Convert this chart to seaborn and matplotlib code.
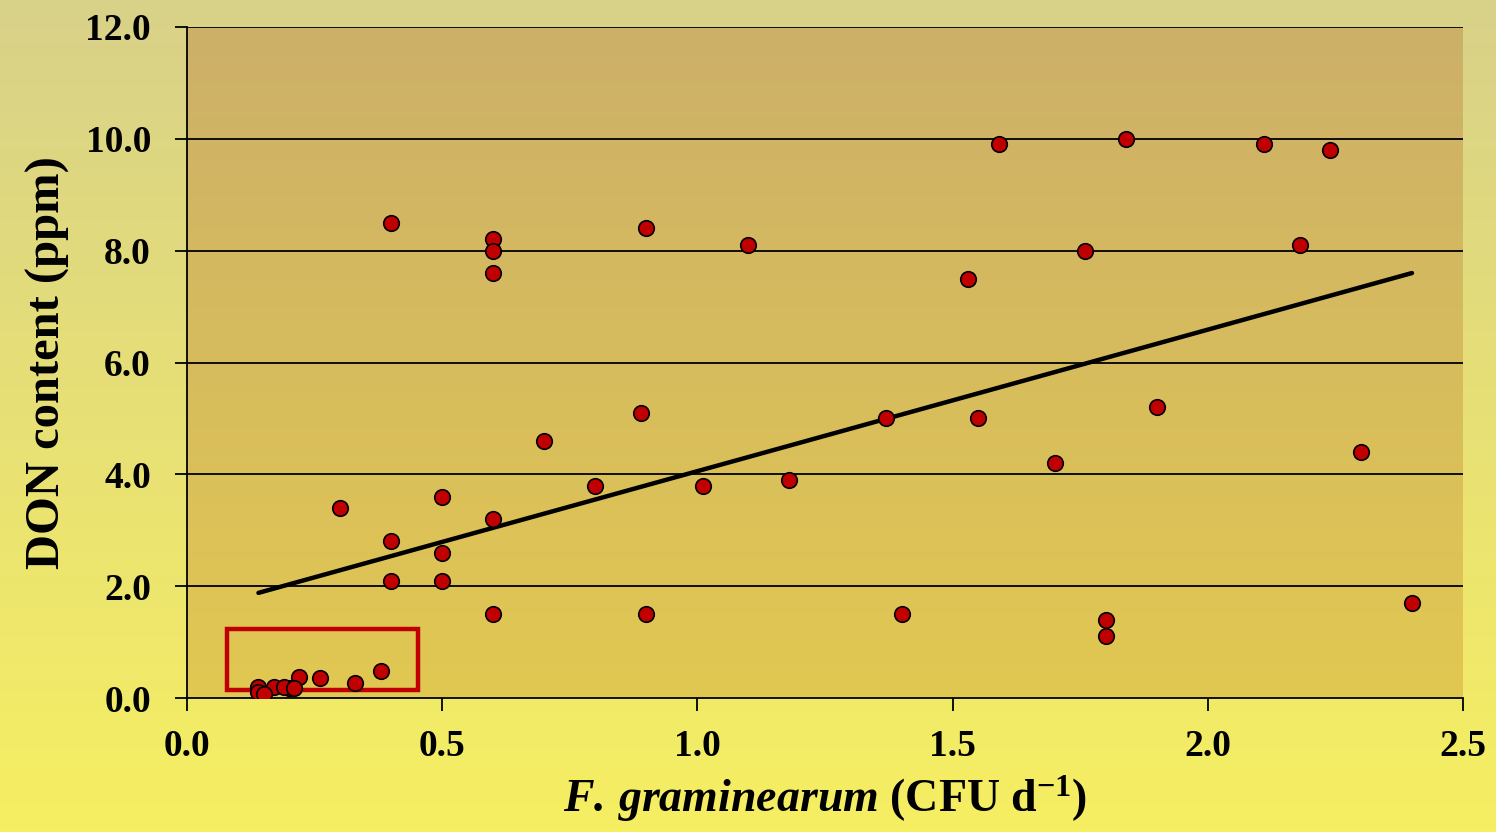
import numpy as np
import pandas as pd
import matplotlib
matplotlib.use("Agg")
import matplotlib.pyplot as plt
import matplotlib.patches as patches
from matplotlib.colors import LinearSegmentedColormap
import seaborn as sns

# Dados
fungo_cfu = [0.40, 0.60, 0.60, 0.60, 0.90, 1.10, 1.59, 1.84, 2.11, 2.24,
             2.18, 1.76, 1.53, 0.89, 0.70, 1.37, 1.55, 1.90, 1.70, 2.30,
             0.30, 0.50, 0.80, 1.01, 1.18, 0.60, 0.40, 0.50, 0.40, 0.50,
             0.60, 0.90, 1.40, 1.80, 1.80, 2.40,
             0.38, 0.33, 0.26, 0.22, 0.20, 0.17, 0.14, 0.14, 0.15, 0.19, 0.21]
don_ppm = [8.5, 8.2, 8.0, 7.6, 8.4, 8.1, 9.9, 10.0, 9.9, 9.8,
           8.1, 8.0, 7.5, 5.1, 4.6, 5.0, 5.0, 5.2, 4.2, 4.4,
           3.4, 3.6, 3.8, 3.8, 3.9, 3.2, 2.8, 2.6, 2.1, 2.1,
           1.5, 1.5, 1.5, 1.4, 1.1, 1.7,
           0.48, 0.26, 0.35, 0.38, 0.17, 0.20, 0.19, 0.10, 0.08, 0.19, 0.18]

# Linha de tendência (extremos)
tendencia_x = [0.14, 2.40]
tendencia_y = [1.88, 7.60]

# Caixa destacada (região de baixa contaminação)
caixa_x = [0.078, 0.453]
caixa_y = [0.14, 1.23]

x_ticks = [0.0, 0.5, 1.0, 1.5, 2.0, 2.5]
y_ticks = [0, 2, 4, 6, 8, 10, 12]

df = pd.DataFrame({"cfu": fungo_cfu, "don": don_ppm})
df_tend = pd.DataFrame({"x": tendencia_x, "y": tendencia_y})

sns.set_theme(style="white")
plt.rcParams["font.family"] = ["Liberation Serif", "DejaVu Serif"]
plt.rcParams["text.color"] = "black"
plt.rcParams["axes.labelcolor"] = "black"
plt.rcParams["xtick.color"] = "black"
plt.rcParams["ytick.color"] = "black"
plt.rcParams["mathtext.fontset"] = "custom"
plt.rcParams["mathtext.rm"] = "Liberation Serif:bold"
plt.rcParams["mathtext.bf"] = "Liberation Serif:bold"
plt.rcParams["mathtext.it"] = "Liberation Serif:italic:bold"
plt.rcParams["mathtext.bfit"] = "Liberation Serif:italic:bold"

fig = plt.figure(figsize=(14.96, 8.32), dpi=100)

# Fundo em degradê da figura
bg = fig.add_axes([0, 0, 1, 1], zorder=-10)
cmap_fig = LinearSegmentedColormap.from_list("fig", ["#d8d189", "#f6ef62"])
bg.imshow(np.linspace(0, 1, 256).reshape(-1, 1), cmap=cmap_fig, aspect="auto",
          extent=[0, 1, 0, 1], origin="upper")
bg.axis("off")

ax = fig.add_axes([187 / 1496, 1 - 698 / 832, (1463 - 187) / 1496, (698 - 27) / 832])
ax.patch.set_alpha(0)

# Fundo em degradê da área do gráfico
cmap_ax = LinearSegmentedColormap.from_list("ax", ["#cdb069", "#e1c852"])
ax.imshow(np.linspace(0, 1, 256).reshape(-1, 1), cmap=cmap_ax, aspect="auto",
          extent=[0, 2.5, 0, 12], origin="upper", zorder=0)

for yv in y_ticks[1:]:
    ax.axhline(yv, color="black", lw=1.3, zorder=1)

caixa = patches.Rectangle((caixa_x[0], caixa_y[0]), caixa_x[1] - caixa_x[0],
                          caixa_y[1] - caixa_y[0], fill=False,
                          edgecolor="#c00000", lw=3.2, zorder=2)
ax.add_patch(caixa)

sns.lineplot(data=df_tend, x="x", y="y", color="black", lw=3.2, ax=ax,
             zorder=3, solid_capstyle="round")

sns.scatterplot(data=df, x="cfu", y="don", color="#c00000", edgecolor="black",
                linewidth=1.2, s=125, ax=ax, zorder=4)

ax.set_xlim(0, 2.5)
ax.set_ylim(0, 12)
ax.set_xticks(x_ticks)
ax.set_yticks(y_ticks)
ax.set_xticklabels([f"{v:.1f}" for v in x_ticks])
ax.set_yticklabels([f"{v:.1f}" for v in y_ticks])

for lado in ["top", "right"]:
    ax.spines[lado].set_visible(False)
for lado in ["left", "bottom"]:
    ax.spines[lado].set_color("black")
    ax.spines[lado].set_linewidth(1.3)

ax.tick_params(axis="both", direction="out", length=9, width=1.3, color="black",
               labelsize=27, labelcolor="black", bottom=True, left=True)
ax.tick_params(axis="y", pad=17)
ax.tick_params(axis="x", pad=13)
for lbl in ax.get_xticklabels() + ax.get_yticklabels():
    lbl.set_fontweight("bold")

ax.set_xlabel(r"$\mathbfit{F.\,graminearum}$ (CFU d$^{\mathbf{-1}}$)",
              fontsize=33, fontweight="bold", labelpad=7)
ax.set_ylabel("DON content (ppm)", fontsize=35, fontweight="bold", labelpad=11)

plt.savefig("out.png", dpi=100)
